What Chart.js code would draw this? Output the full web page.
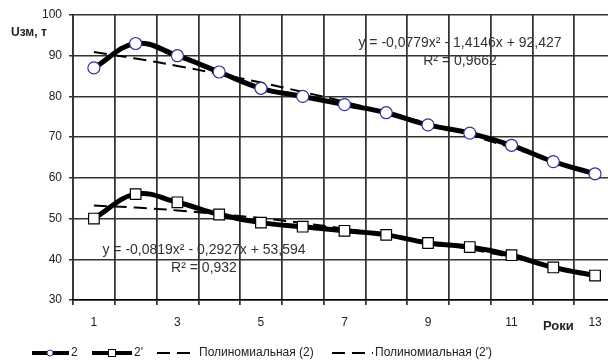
<!DOCTYPE html>
<html>
<head>
<meta charset="utf-8">
<script src="https://cdn.jsdelivr.net/npm/chart.js@4.4.1/dist/chart.umd.min.js"></script>
<style>
  html, body { margin: 0; padding: 0; background: #fff; overflow: hidden; }
</style>
</head>
<body>
<canvas id="chart" width="608" height="360"></canvas>
<script>
// data
const years = [1, 2, 3, 4, 5, 6, 7, 8, 9, 10, 11, 12, 13];
const series2 = [87, 93, 90, 86, 82, 80, 78, 76, 73, 71, 68, 64, 61];
const series2p = [50, 56, 54, 51, 49, 48, 47, 46, 44, 43, 41, 38, 36];
const trend2 = [90.9, 89.3, 87.5, 85.5, 83.4, 81.1, 78.7, 76.1, 73.4, 70.5, 67.4, 64.2, 60.9];
const trend2p = [53.2, 52.7, 52.0, 51.1, 50.1, 48.9, 47.5, 46.0, 44.3, 42.5, 40.5, 38.3, 36.0];
const xLabels = [1, 3, 5, 7, 9, 11, 13];
const seriesNames = ['2', "2'", 'Полиномиальная (2)', "Полиномиальная (2')"];
const eq2 = ['y = -0,0779x² - 1,4146x + 92,427', 'R² = 0,9662'];
const eq2p = ['y = -0,0819x² - 0,2927x + 53,594', 'R² = 0,932'];
const yTitle = 'Uзм, т';
const xTitle = 'Роки';

const FONT = '"Liberation Sans", Arial, sans-serif';
const X_MIN = 0.5, X_MAX = 13.31;

function pts(arr) {
    return years.map((x, i) => ({x: x, y: arr[i]}));
}

// make sure the vertical grid is drawn under the lines
const gridPlugin = {
    id: 'xgrid',
    beforeDatasetsDraw(chart) {
        try {
            chart.scales.x.drawGrid(chart.chartArea);
        } catch (e) {}
    }
};

// equations, axis titles and the legend
const textPlugin = {
    id: 'texts',
    afterDraw(chart) {
        const ctx = chart.ctx;
        ctx.save();
        ctx.fillStyle = '#333';
        ctx.textBaseline = 'middle';

        ctx.font = '14px ' + FONT;
        ctx.textAlign = 'center';
        ctx.fillText(eq2[0], 460, 43);
        ctx.fillText(eq2[1], 460, 61);
        ctx.fillText(eq2p[0], 204, 250);
        ctx.fillText(eq2p[1], 204, 268);

        ctx.fillStyle = '#222';
        ctx.font = 'bold 12px ' + FONT;
        ctx.textAlign = 'left';
        ctx.fillText(yTitle, 11, 33);
        ctx.font = 'bold 13px ' + FONT;
        ctx.fillText(xTitle, 543, 326);

        // legend
        const ly = 353;
        ctx.font = '12px ' + FONT;
        ctx.fillStyle = '#222';
        ctx.strokeStyle = '#000';

        ctx.lineWidth = 4;
        ctx.setLineDash([]);
        ctx.beginPath(); ctx.moveTo(32, ly); ctx.lineTo(69, ly); ctx.stroke();
        ctx.beginPath(); ctx.arc(50, ly, 3, 0, Math.PI * 2);
        ctx.fillStyle = '#fff'; ctx.fill();
        ctx.lineWidth = 1; ctx.strokeStyle = '#33339a'; ctx.stroke();
        ctx.fillStyle = '#222';
        ctx.fillText(seriesNames[0], 71, ly);

        ctx.strokeStyle = '#000';
        ctx.lineWidth = 4;
        ctx.beginPath(); ctx.moveTo(92, ly); ctx.lineTo(132, ly); ctx.stroke();
        ctx.fillStyle = '#fff'; ctx.fillRect(108, ly - 3.5, 8, 7);
        ctx.lineWidth = 1; ctx.strokeRect(108.5, ly - 3.5, 7, 7);
        ctx.fillStyle = '#222';
        ctx.fillText(seriesNames[1], 134, ly);

        ctx.lineWidth = 2;
        ctx.setLineDash([13, 7]);
        ctx.beginPath(); ctx.moveTo(157, ly); ctx.lineTo(197, ly); ctx.stroke();
        ctx.fillText(seriesNames[2], 199, ly);
        ctx.beginPath(); ctx.moveTo(332, ly); ctx.lineTo(373, ly); ctx.stroke();
        ctx.fillText(seriesNames[3], 375, ly);

        ctx.restore();
    }
};

new Chart(document.getElementById('chart'), {
    type: 'line',
    data: {
        datasets: [
            {
                label: seriesNames[0],
                data: pts(series2),
                borderColor: '#000',
                borderWidth: 5,
                tension: 0.4,
                pointStyle: 'circle',
                pointRadius: 6,
                pointBackgroundColor: '#fff',
                pointBorderColor: '#33339a',
                pointBorderWidth: 1.2
            },
            {
                label: seriesNames[1],
                data: pts(series2p),
                borderColor: '#000',
                borderWidth: 5,
                tension: 0.4,
                pointStyle: 'rect',
                pointRadius: 7.5,
                pointBackgroundColor: '#fff',
                pointBorderColor: '#000',
                pointBorderWidth: 1.2
            },
            {
                label: seriesNames[2],
                data: pts(trend2),
                borderColor: '#000',
                borderWidth: 2,
                borderDash: [13, 7],
                tension: 0.4,
                pointRadius: 0
            },
            {
                label: seriesNames[3],
                data: pts(trend2p),
                borderColor: '#000',
                borderWidth: 2,
                borderDash: [13, 7],
                tension: 0.4,
                pointRadius: 0
            }
        ]
    },
    options: {
        responsive: false,
        animation: false,
        devicePixelRatio: 1,
        layout: {autoPadding: false, padding: {left: 0, top: 15, right: 0, bottom: 0}},
        plugins: {
            legend: {display: false},
            tooltip: {enabled: false}
        },
        scales: {
            x: {
                type: 'linear',
                min: X_MIN,
                max: X_MAX,
                // grid lines sit between the years, labels at the years
                afterBuildTicks: (axis) => {
                    axis.ticks = years.map(v => ({value: v - 0.5}));
                },
                afterFit: (axis) => {
                    axis.height = 60;
                    axis.paddingLeft = 0;
                    axis.paddingRight = 0;
                },
                grid: {
                    color: '#333',
                    lineWidth: 1.5,
                    tickLength: 5
                },
                border: {color: '#000', width: 1.5},
                ticks: {
                    autoSkip: false,
                    maxRotation: 0,
                    padding: 10,
                    labelOffset: 20.9,
                    color: '#222',
                    font: {family: FONT, size: 12},
                    callback: (v) => xLabels.includes(v + 0.5) ? String(v + 0.5) : ''
                }
            },
            y: {
                min: 30,
                max: 100,
                afterFit: (axis) => {
                    axis.width = 73;
                    axis.paddingTop = 0;
                    axis.paddingBottom = 0;
                },
                grid: {
                    color: '#333',
                    lineWidth: 1.5,
                    tickLength: 4
                },
                border: {color: '#000', width: 1.5},
                ticks: {
                    stepSize: 10,
                    padding: 7,
                    color: '#222',
                    font: {family: FONT, size: 12}
                }
            }
        }
    },
    plugins: [gridPlugin, textPlugin]
});
</script>
</body>
</html>
